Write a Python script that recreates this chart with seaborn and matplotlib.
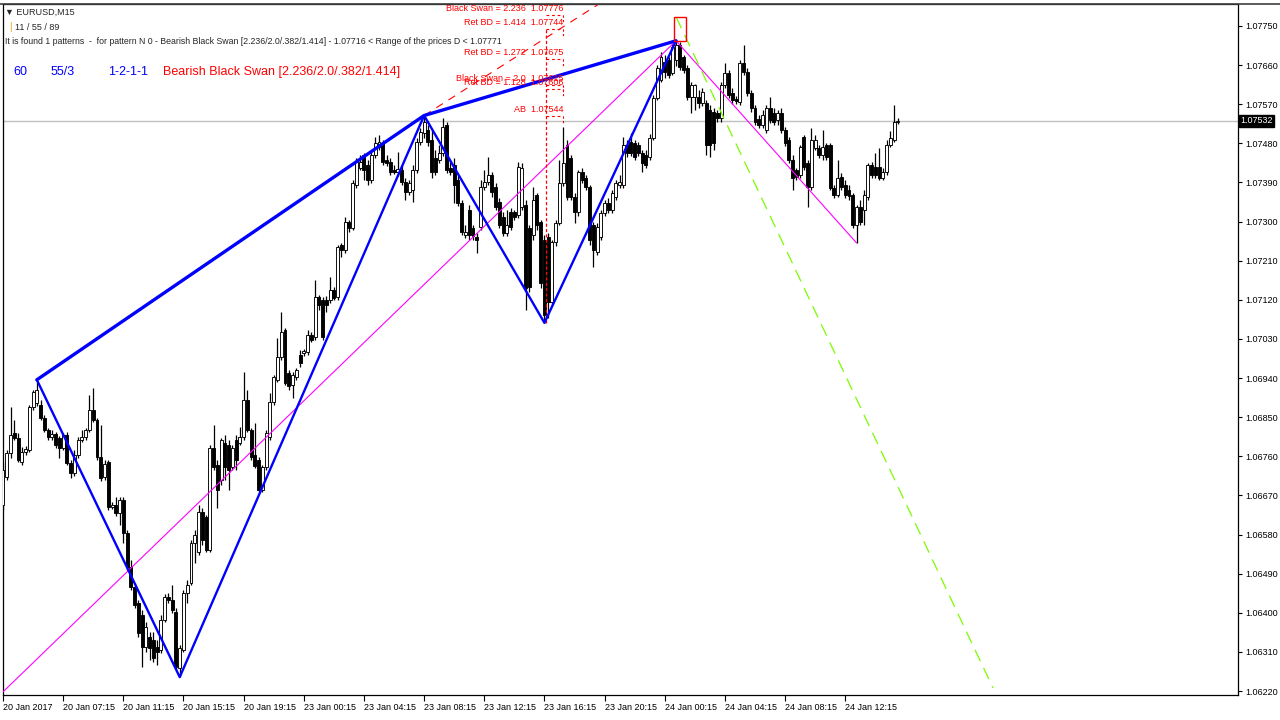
import numpy as np
import pandas as pd
import matplotlib
matplotlib.use("Agg")
import matplotlib.pyplot as plt
from matplotlib.patches import Rectangle
from matplotlib.lines import Line2D
import seaborn as sns

# EURUSD M15 candles, prices in points (0.00001) above 1.06000
PRICE_BASE = 1.06

open_pts = [
    648, 712, 768, 814, 802, 747, 770, 774, 873, 883, 878, 848, 820, 804, 811, 802, 779, 809, 745, 722, 763, 797, 804, 820, 867,
    844, 758, 712, 747, 643, 648, 630, 659, 584, 505, 459, 422, 395, 321, 344, 337, 321, 314, 383, 436, 429, 402, 273, 314, 445,
    468, 561, 540, 632, 620, 544, 779, 740, 705, 791, 786, 735, 797, 791, 804, 890, 820, 763, 751, 682, 735, 804, 885, 936, 988,
    1051, 952, 924, 942, 993, 998, 1000, 1039, 1034, 1126, 1120, 1120, 1120, 1143, 1126, 1246, 1235, 1299, 1285, 1384, 1423, 1453, 1430, 1396, 1453,
    1472, 1481, 1442, 1437, 1419, 1414, 1419, 1391, 1368, 1373, 1419, 1483, 1504, 1511, 1488, 1446, 1442, 1458, 1522, 1423, 1430, 1396, 1343, 1269, 1327,
    1285, 1265, 1288, 1380, 1391, 1407, 1380, 1345, 1311, 1274, 1322, 1322, 1315, 1334, 1338, 1285, 1269, 1361, 1299, 1258, 1265, 1115, 1253, 1297, 1389,
    1476, 1446, 1357, 1322, 1414, 1400, 1380, 1292, 1230, 1265, 1320, 1343, 1327, 1357, 1384, 1384, 1476, 1483, 1481, 1476, 1458, 1453, 1449, 1492, 1584,
    1626, 1667, 1672, 1642, 1672, 1706, 1679, 1653, 1587, 1587, 1587, 1573, 1573, 1557, 1552, 1550, 1538, 1614, 1642, 1596, 1582, 1575, 1665, 1644, 1596,
    1561, 1536, 1522, 1511, 1561, 1550, 1534, 1550, 1511, 1488, 1442, 1419, 1407, 1495, 1435, 1380, 1469, 1469, 1453, 1476, 1476, 1377, 1361, 1403, 1384,
    1373, 1361, 1292, 1334, 1327, 1357, 1430, 1426, 1426, 1400, 1414, 1476, 1488, 1529,
]
high_pts = [
    747, 774, 873, 844, 814, 781, 784, 878, 913, 936, 890, 855, 825, 820, 816, 807, 814, 816, 751, 774, 804, 820, 825, 901, 917,
    848, 832, 751, 751, 655, 666, 666, 666, 590, 521, 468, 429, 406, 379, 356, 356, 337, 395, 443, 445, 464, 411, 326, 452, 475,
    567, 590, 648, 641, 625, 786, 832, 751, 802, 809, 797, 786, 809, 827, 954, 913, 825, 837, 758, 740, 820, 906, 947, 1032, 1092,
    1055, 959, 954, 963, 1005, 1007, 1051, 1046, 1166, 1131, 1126, 1129, 1173, 1150, 1246, 1251, 1311, 1304, 1396, 1446, 1453, 1458, 1442, 1465, 1495,
    1499, 1488, 1453, 1446, 1430, 1460, 1430, 1400, 1396, 1430, 1492, 1515, 1541, 1522, 1511, 1465, 1476, 1538, 1529, 1442, 1446, 1407, 1350, 1292, 1338,
    1292, 1274, 1396, 1419, 1449, 1414, 1389, 1354, 1322, 1327, 1331, 1327, 1437, 1435, 1350, 1292, 1380, 1366, 1304, 1269, 1274, 1258, 1304, 1442, 1518,
    1488, 1453, 1366, 1419, 1423, 1407, 1384, 1299, 1297, 1327, 1350, 1354, 1373, 1396, 1407, 1495, 1488, 1504, 1488, 1483, 1465, 1465, 1502, 1591, 1660,
    1690, 1683, 1679, 1709, 1715, 1713, 1683, 1660, 1621, 1617, 1603, 1607, 1580, 1568, 1561, 1557, 1621, 1665, 1649, 1607, 1589, 1672, 1706, 1653, 1603,
    1568, 1545, 1557, 1568, 1587, 1561, 1557, 1561, 1518, 1495, 1453, 1423, 1476, 1499, 1442, 1515, 1499, 1476, 1511, 1481, 1481, 1384, 1442, 1412, 1396,
    1384, 1366, 1338, 1350, 1373, 1435, 1437, 1458, 1469, 1423, 1488, 1508, 1568, 1538,
]
low_pts = [
    636, 705, 756, 797, 747, 740, 763, 770, 867, 876, 844, 816, 797, 797, 779, 756, 774, 740, 710, 715, 756, 793, 797, 816, 839,
    751, 703, 705, 636, 639, 623, 602, 561, 498, 452, 411, 344, 275, 310, 291, 287, 280, 307, 379, 422, 399, 268, 252, 310, 422,
    464, 514, 533, 556, 540, 540, 728, 641, 694, 705, 682, 728, 728, 786, 797, 816, 751, 733, 676, 678, 728, 797, 878, 931, 982,
    924, 913, 894, 936, 965, 991, 993, 1023, 1028, 1097, 1028, 1092, 1113, 1120, 1120, 1219, 1228, 1276, 1281, 1377, 1419, 1396, 1384, 1389, 1446,
    1465, 1430, 1428, 1407, 1409, 1405, 1384, 1350, 1361, 1345, 1412, 1476, 1492, 1474, 1400, 1407, 1435, 1451, 1412, 1407, 1343, 1336, 1269, 1262, 1258,
    1258, 1228, 1281, 1373, 1384, 1357, 1327, 1285, 1267, 1267, 1281, 1304, 1308, 1327, 1097, 1138, 1258, 1281, 1147, 1067, 1078, 1108, 1244, 1292, 1382,
    1350, 1350, 1297, 1313, 1389, 1373, 1246, 1196, 1223, 1258, 1313, 1320, 1320, 1350, 1377, 1377, 1449, 1451, 1442, 1451, 1414, 1423, 1442, 1488, 1580,
    1621, 1630, 1630, 1637, 1658, 1649, 1642, 1580, 1550, 1557, 1561, 1566, 1453, 1449, 1465, 1529, 1529, 1607, 1584, 1571, 1571, 1568, 1637, 1589, 1552,
    1522, 1515, 1515, 1504, 1527, 1522, 1522, 1504, 1474, 1435, 1373, 1396, 1400, 1419, 1334, 1373, 1465, 1446, 1442, 1442, 1373, 1354, 1357, 1373, 1354,
    1350, 1285, 1251, 1292, 1292, 1350, 1400, 1400, 1396, 1396, 1407, 1472, 1483, 1525,
]
close_pts = [
    728, 768, 809, 802, 751, 770, 777, 873, 908, 913, 848, 820, 804, 811, 786, 779, 809, 745, 722, 763,
    797, 804, 820, 867, 844, 758, 710, 742, 643, 648, 630, 659, 584, 505, 459, 418, 353, 321, 367, 319,
    296, 310, 383, 436, 429, 406, 275, 319, 445, 464, 561, 579, 632, 567, 544, 779, 735, 682, 797, 735,
    728, 779, 751, 804, 890, 820, 758, 738, 682, 735, 814, 885, 942, 988, 1046, 929, 922, 947, 959, 975,
    1002, 1039, 1028, 1126, 1108, 1034, 1108, 1143, 1124, 1242, 1235, 1299, 1285, 1389, 1437, 1437, 1419, 1396, 1453, 1481,
    1483, 1437, 1435, 1414, 1414, 1421, 1391, 1368, 1389, 1419, 1483, 1506, 1529, 1483, 1414, 1414, 1458, 1518, 1419, 1414,
    1384, 1343, 1276, 1276, 1269, 1267, 1258, 1380, 1391, 1407, 1368, 1334, 1292, 1274, 1292, 1288, 1311, 1426, 1423, 1147,
    1150, 1350, 1292, 1159, 1085, 1115, 1253, 1297, 1389, 1435, 1357, 1357, 1322, 1414, 1396, 1380, 1258, 1235, 1288, 1320,
    1343, 1327, 1366, 1389, 1391, 1476, 1458, 1458, 1449, 1458, 1435, 1430, 1492, 1584, 1653, 1679, 1644, 1637, 1702, 1706,
    1656, 1649, 1587, 1614, 1614, 1573, 1598, 1476, 1476, 1481, 1538, 1614, 1642, 1591, 1580, 1577, 1665, 1644, 1596, 1561,
    1529, 1522, 1545, 1561, 1534, 1529, 1550, 1511, 1481, 1442, 1400, 1403, 1472, 1426, 1380, 1488, 1488, 1453, 1472, 1449,
    1377, 1361, 1400, 1380, 1361, 1359, 1292, 1334, 1299, 1361, 1430, 1407, 1407, 1400, 1414, 1476, 1492, 1529, 1531,
]

time_labels = ["20 Jan 2017", "20 Jan 07:15", "20 Jan 11:15", "20 Jan 15:15", "20 Jan 19:15",
               "23 Jan 00:15", "23 Jan 04:15", "23 Jan 08:15", "23 Jan 12:15", "23 Jan 16:15",
               "23 Jan 20:15", "24 Jan 00:15", "24 Jan 04:15", "24 Jan 08:15", "24 Jan 12:15"]
bars_per_label = 16

price_ticks = [1.06220, 1.06310, 1.06400, 1.06490, 1.06580, 1.06670, 1.06760, 1.06850, 1.06940,
               1.07030, 1.07120, 1.07210, 1.07300, 1.07390, 1.07480, 1.07570, 1.07660, 1.07750]
last_price = 1.07532

# XABCD pattern (bar index, price)
pattern_bar = [9, 47, 112, 144, 179]
pattern_price = [1.06936, 1.06252, 1.07544, 1.07067, 1.07716]

# level labels
level_names = ["Black Swan = 2.236", "Ret BD = 1.414", "Ret BD = 1.272", "Black Swan = 2.0", "Ret BD = 1.128", "AB"]
level_prices = [1.07776, 1.07744, 1.07675, 1.07615, 1.07606, 1.07544]

# extra lines
magenta_bar = [0, 179, 227]
magenta_price = [1.06218, 1.07716, 1.07251]
green_bar = [179, 263.3]
green_price = [1.07771, 1.06227]
red_ray_bar = [112, 162]
red_ray_price = [1.07544, 1.07820]
d_range = [1.07716, 1.07771]

sns.set_theme(style="white")
plt.rcParams['font.family'] = ['Liberation Sans', 'DejaVu Sans']

df = pd.DataFrame({
    "open": PRICE_BASE + np.array(open_pts) / 1e5,
    "high": PRICE_BASE + np.array(high_pts) / 1e5,
    "low": PRICE_BASE + np.array(low_pts) / 1e5,
    "close": PRICE_BASE + np.array(close_pts) / 1e5,
})
df["bar"] = np.arange(len(df))
up = df["close"] >= df["open"]

W, H = 1280, 720
PX = 3.76  # pixels per bar

fig = plt.figure(figsize=(12.8, 7.2), dpi=100)
ax = fig.add_axes([3 / W, 25 / H, 1235 / W, 691 / H])
ax.set_xlim(0, 1235 / PX)
ax.set_ylim(1.062108, 1.078006)

ax.axhline(last_price, color="#c0c0c0", lw=1, zorder=1)

# candles
ax.vlines(df["bar"], df["low"], df["high"], color="black", lw=0.9, zorder=2)
ax.bar(df["bar"], np.maximum((df["close"] - df["open"]).abs(), 0.000012),
       bottom=np.minimum(df["open"], df["close"]), width=0.78,
       color=np.where(up, "white", "black"), edgecolor="black", linewidth=0.65, zorder=3)

# pattern
pat = pd.DataFrame({"bar": pattern_bar, "price": pattern_price})
sns.lineplot(data=pat, x="bar", y="price", sort=False, estimator=None,
             color="#0000FF", lw=1.7, ax=ax, zorder=5)
sns.lineplot(data=pat.iloc[[0, 2, 4]], x="bar", y="price", sort=False, estimator=None,
             color="#0000FF", lw=2.4, ax=ax, zorder=5)

ax.plot(magenta_bar[:2], magenta_price[:2], color="#FF00FF", lw=0.8, zorder=4)
ax.plot(magenta_bar[1:], magenta_price[1:], color="#FF00FF", lw=0.8, zorder=4)
ax.plot(green_bar, green_price, color="#7CFC00", lw=0.9, dashes=(10, 6), zorder=4)
ax.plot(red_ray_bar, red_ray_price, color="#FF0000", lw=0.8, dashes=(7, 6), zorder=4)

# D range box
ax.add_patch(Rectangle((178.5, d_range[0]), 3.2, d_range[1] - d_range[0],
                       fill=False, edgecolor="#FF0000", lw=1, zorder=6))

# levels
c_bar = (546 - 3) / PX
lab_bar = (563 - 3) / PX
ax.plot([c_bar, c_bar], [pattern_price[3], level_prices[1]], color="#FF0000", lw=0.9,
        dashes=(2.5, 1.8), zorder=4)
for name, lvl in zip(level_names, level_prices):
    ax.plot([c_bar, lab_bar], [lvl, lvl], color="#FF0000", lw=0.8, dashes=(2.5, 2.5), zorder=4)
    ax.plot([lab_bar, lab_bar], [lvl, lvl - 0.00018], color="#FF0000", lw=0.8, dashes=(2, 2), zorder=4)
    ax.text(lab_bar, lvl + 0.00003, f"{name}  {lvl:.5f}", color="#FF0000", fontsize=6.5,
            ha="right", va="bottom", zorder=7)

# axes styling
for s in ax.spines.values():
    s.set_color("black")
    s.set_linewidth(0.9)
ax.yaxis.tick_right()
ax.set_yticks(price_ticks)
ax.set_yticklabels([f"{t:.5f}" for t in price_ticks])
ax.tick_params(axis="y", direction="out", length=3, width=0.8, pad=2, labelsize=6.5,
               colors="black", right=True, left=False)
ax.set_xticks([k * bars_per_label for k in range(len(time_labels))])
ax.set_xticklabels(time_labels, ha="left", fontsize=6.5)
ax.tick_params(axis="x", direction="out", length=4, width=0.8, pad=1.5, colors="black", bottom=True)
ax.set_xlabel("")
ax.set_ylabel("")
ax.grid(False)

ax.text(1.0018, last_price, f"{last_price:.5f}", transform=ax.get_yaxis_transform(),
        color="white", fontsize=6.5, ha="left", va="center", zorder=8,
        bbox=dict(boxstyle="square,pad=0.18", fc="black", ec="black"))

fig.add_artist(Line2D([0, 1], [1 - 3.5 / H] * 2, color="#404040", lw=1.2))


def fxy(x, y):
    return x / W, 1 - y / H


fig.text(*fxy(5, 12), "\u25bc EURUSD,M15", fontsize=6.5, va="center")
fig.text(*fxy(9, 27), "|", fontsize=7, va="center", color="#E8A000")
fig.text(*fxy(15, 27), "11 / 55 / 89", fontsize=6.5, va="center")
fig.text(*fxy(5, 42), "It is found 1 patterns  -  for pattern N 0 - Bearish Black Swan [2.236/2.0/.382/1.414] "
         "- 1.07716 < Range of the prices D < 1.07771", fontsize=6.35, va="center")
for x, txt, col in [(13, "60", "#0000FF"), (51, "55/3", "#0000FF"), (108, "1-2-1-1", "#0000FF"),
                    (163, "Bearish Black Swan [2.236/2.0/.382/1.414]", "#FF0000")]:
    fig.text(*fxy(x, 72), txt, fontsize=9, va="center", color=col)

fig.savefig("out.png", dpi=100)
